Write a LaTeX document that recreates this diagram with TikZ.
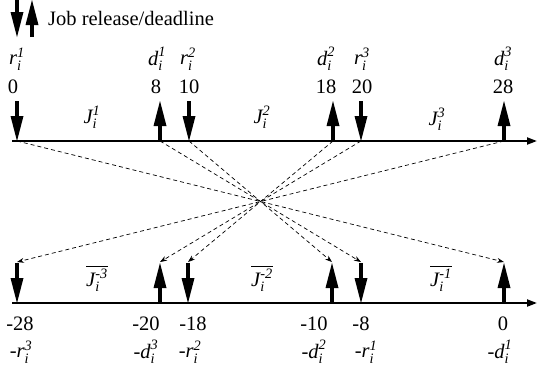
\documentclass[tikz,border=0pt]{standalone}
\usepackage{amsmath}
\usepackage{fontspec}
\setmainfont{Liberation Serif}
\usetikzlibrary{arrows.meta}
\newcommand{\jb}[3]{$\textit{#1}_{\textit{#2}}^{\textit{#3}}$}
\newcommand{\jbar}[1]{$\overline{\textit{J}_{\textit{i}}^{\textit{-#1}}}$}
\begin{document}
\begin{tikzpicture}[x=1pt,y=-1pt,
  lbl/.style={font=\fontsize{20.5}{24}\selectfont,inner sep=0pt},
  axisline/.style={line width=2pt,-{Triangle[length=10pt,width=7pt]}},
  bigarrow/.style={line width=4pt,-{Triangle[length=25pt,width=13pt,line width=0pt]}},
  map/.style={line width=0.7pt,dash pattern=on 4pt off 3pt,-{Stealth[length=7pt,width=5pt]}}]
\useasboundingbox (0,0) rectangle (537,368);
% legend
\coordinate (g1) at (17,0);
\coordinate (g2) at (17,37);
\coordinate (g3) at (32,37);
\coordinate (g4) at (32,0);
\draw[bigarrow] (g1) -- (g2);
\draw[bigarrow] (g3) -- (g4);
\node[lbl,anchor=west] (leg) at (48,18) {Job release/deadline};
% time axes
\coordinate (tl) at (12,141);
\coordinate (tr) at (537,141);
\coordinate (bl) at (12,303);
\coordinate (br) at (537,303);
\draw[axisline] (tl) -- (tr);
\draw[axisline] (bl) -- (br);
% ticks, bottom axis mirrored
\foreach \n/\x in {0/17,8/160,10/189,18/333,20/361,28/504}{
  \coordinate (a\n) at (\x,141);
  \coordinate (b\n) at ({521-\x},303);
  \coordinate (e\n) at ({521-\x},262);
}
\foreach \n in {0,10,20} \draw[bigarrow] (a\n) ++(0,-40) -- (a\n);
\foreach \n in {8,18,28} \draw[bigarrow] (a\n) -- ++(0,-40);
\foreach \n in {28,18,8} \draw[bigarrow] (b\n) ++(0,-40) -- (b\n);
\foreach \n in {20,10,0} \draw[bigarrow] (b\n) -- ++(0,-40);
\foreach \n in {0,8,10,18,20,28} \draw[map] (a\n) -- (e\n);
% top labels
\node[lbl] (r1) at (17,59) {\jb{r}{i}{1}};
\node[lbl] (d1) at (157,59) {\jb{d}{i}{1}};
\node[lbl] (r2) at (188,59) {\jb{r}{i}{2}};
\node[lbl] (d2) at (326,59) {\jb{d}{i}{2}};
\node[lbl] (r3) at (362,59) {\jb{r}{i}{3}};
\node[lbl] (d3) at (503,59) {\jb{d}{i}{3}};
\node[lbl] (t0) at (13,87) {0};
\node[lbl] (t8) at (156,87) {8};
\node[lbl] (t10) at (189,87) {10};
\node[lbl] (t18) at (326,87) {18};
\node[lbl] (t20) at (362,87) {20};
\node[lbl] (t28) at (503,87) {28};
\node[lbl] (j1) at (92,117) {\jb{J}{i}{1}};
\node[lbl] (j2) at (262,117) {\jb{J}{i}{2}};
\node[lbl] (j3) at (437,119) {\jb{J}{i}{3}};
% bottom labels
\node[lbl] (k3) at (97,278) {\jbar{3}};
\node[lbl] (k2) at (262,278) {\jbar{2}};
\node[lbl] (k1) at (441,278) {\jbar{1}};
\node[lbl] (u28) at (20,324) {-28};
\node[lbl] (u20) at (146,324) {-20};
\node[lbl] (u18) at (193,324) {-18};
\node[lbl] (u10) at (314,324) {-10};
\node[lbl] (u8) at (361,324) {-8};
\node[lbl] (u0) at (503,324) {0};
\node[lbl] (v28) at (21,352) {-\jb{r}{i}{3}};
\node[lbl] (v20) at (146,352) {-\jb{d}{i}{3}};
\node[lbl] (v18) at (190,352) {-\jb{r}{i}{2}};
\node[lbl] (v10) at (314,352) {-\jb{d}{i}{2}};
\node[lbl] (v8) at (366,352) {-\jb{r}{i}{1}};
\node[lbl] (v0) at (500,352) {-\jb{d}{i}{1}};
\end{tikzpicture}
\end{document}
